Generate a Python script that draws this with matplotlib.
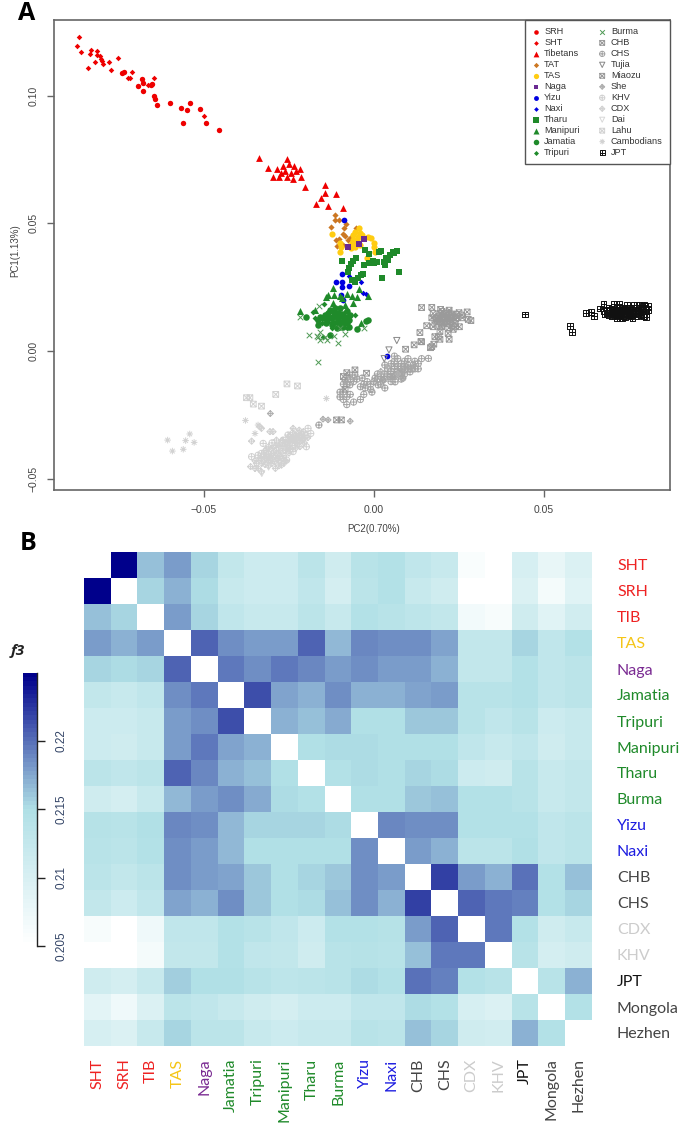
import numpy as np
import matplotlib
matplotlib.use("Agg")
import matplotlib.pyplot as plt
from matplotlib.colors import LinearSegmentedColormap
from matplotlib.path import Path
from matplotlib.markers import MarkerStyle
from matplotlib.cm import ScalarMappable
from matplotlib.colors import Normalize

W, H = 685, 1136

# ---------- PCA values (PC2, PC1) in thousandths ----------
SRH = [(-74.1,109),(-73.6,109.4),(-68.3,106.7),(-67.8,104.8),(-69.3,103.9),(-65.3,104.4),(-65.6,104.3),(-67.8,101.8),(-64.8,99.8),(-64.3,98.8),(-63.8,96.2),(-59.9,97.2),(-56.8,95),(-54.9,94.3),(-54.1,97.2),(-51.2,94.6),(-56.1,89.2),(-49.4,89.5),(-45.6,86.6)]
SHT = [(-86.9,123),(-87.3,119.3),(-86.3,117.2),(-83.1,117.8),(-83.6,116.3),(-81.5,117.6),(-81.5,115.9),(-80.7,115.6),(-80.2,114.3),(-82.2,113.1),(-80.1,113.4),(-79.8,112.6),(-84,110.9),(-78,113.3),(-77.4,110),(-75.2,114.6),(-71.2,109.1),(-72.5,107),(-71.8,107),(-64.7,107),(-66.5,104.1),(-50.1,91.9)]
Tibetans = [(-33.8,75.6),(-31.2,71.7),(-29.7,68.2),(-28.5,71.3),(-27.4,69.8),(-26.7,72.5),(-25.6,75.2),(-26.2,70.5),(-25,73.3),(-24.4,69.8),(-23.5,72.5),(-22.8,70.5),(-21.9,71.3),(-28,68.2),(-25.6,68.2),(-23.8,67.4),(-21.5,68.2),(-20.3,64.3),(-14.4,65),(-14.4,61.8),(-11.1,61.5),(-17,57.7),(-13.5,56.8),(-9,56),(-15.5,60)]
TAT = [(-11.5,53.3),(-11.6,51.3),(-10.3,51.3),(-8.2,49.6),(-12.6,48.5),(-8.9,48.1),(-9,45.7),(-8.5,45.1),(-7.1,44.2),(-5.3,48.3),(-11.2,43.5),(-10.4,43.8),(-10.8,41.2),(-9.2,41.5),(-7.6,43.5),(-6.6,43.8),(-3.1,44.2)]
TAS = [(-4.3,48.3),(-5.6,46.8),(-4.1,46.4),(-6.1,45.5),(-4.6,44.8),(-12.4,45.9),(-1.7,44.8),(-0.9,44.4),(-10,42.2),(-9.8,40.9),(-10,38.7),(-6.6,42.2),(-5.1,42.5),(-5.6,40.6),(-6.9,40.2),(-4.1,41.5),(-4.9,43.5),(0,42.2),(0,40.6),(0.3,38.9),(-2.2,36.3),(-6.1,43.5),(-3.6,45.5),(-7.3,41.2)]
Naga = [(-2.9,43.8),(-4.4,41.8),(-7.7,40.9)]
Yizu = [(-8.8,51.3),(-9.4,30.2),(-11.3,27.2),(-9.4,27.2),(-9.5,25.2),(-7.5,25.5),(-9.7,22),(-9,20),(3.7,-1.8)]
Naxi = [(-7.5,29.4),(-3.9,26.9),(-3.3,22.9),(-2.4,22.2)]
Tharu = [(-9.3,35.1),(-2.7,39.6),(-1.5,37.9),(2,39.2),(1.6,38.8),(5.5,38.9),(6.7,39.2),(5.9,38.3),(4.7,37.6),(3.5,36.3),(2.9,35),(4.2,35.7),(0.8,35),(-0.2,35.3),(-1.4,34.6),(-2.9,33.8),(-5.3,36.3),(-6.1,35.4),(-6.9,34.1),(-7.3,32.4),(-7.6,31.1),(-3.1,30.2),(-3.9,29.7),(-4.6,28.5),(-5.6,27.2),(-6.6,27.8),(7.4,31.1),(2.3,28.5),(3.2,33.7),(0.1,34.4)]
Manipuri = [(-21.8,15.7),(-12,24.8),(-13.4,21.9),(-14.1,21),(-11.8,21.9),(-10,21.6),(-7.8,22.4),(-6.4,21.6),(-5.1,21),(-4.4,24.2),(-1.7,21.6),(-6.3,18.7),(-9.5,20.7),(-12,18.7),(-8.5,18),(-3.9,11.1),(-17.4,16.1)]
Jamatia = [(-20,13.2),(-15.9,13.5),(-16.4,10.2),(-13.4,14.8),(-11.5,14.8),(-12.4,12.8),(-10.5,12.8),(-8,15.8),(-8,10.9),(-10,9.5),(-7.5,9.5),(-12.9,6.3),(-5.1,8.5),(-1.7,12.2),(-2.4,11.8),(-11.5,16.7),(-14.4,14.1),(-10,16.7),(-9,13.5),(-16.4,12.2),(-13.9,12.8),(-11,11.5),(-13,13),(-12,15.5),(-12,11),(-11,13.5),(-10.5,15),(-10,11.5),(-9.5,14.5),(-9,11),(-8.5,12.5),(-8,13.5),(-12.5,10),(-11,9),(-9,9.5),(-14,11),(-15,13),(-7.5,12),(-13,16),(-7,14)]
Tripuri = [(-17.8,15.4),(-14.6,18.4),(-15.4,10.9),(-12.9,16.1),(-10,14.8),(-5.6,14.1),(-14.9,5.6),(-12.5,8.9),(-8,8.9),(-11,10.9),(-17.4,12.8),(-8.5,15.4),(-12,14.1),(-13.4,11.5),(-9.5,11.5)]
Burma = [(-21.9,13.2),(-16.1,17.8),(-19,6.2),(-16.9,5.9),(-15.9,4.3),(-14.3,5.6),(-13.7,4.3),(-11.8,6),(-10.7,3),(-8.4,6.5),(-16.6,-4.3),(-2.8,8.9),(-15.9,7.6),(-10,8.9),(-16.4,5.6)]
CHB = [(14,17),(17,17.1),(19.6,16.3),(22.1,16),(27.4,15.3),(17.4,14.7),(19.4,14.7),(20.4,14.1),(21.3,14.7),(22.8,14.1),(24.3,14.3),(25.8,14.1),(18.4,12.8),(19.9,12.8),(21.8,13.2),(23.3,13.2),(17.9,12.1),(27.7,12.4),(28.5,11.9),(19.4,11.5),(21.8,10.8),(23.8,10.8),(25.1,9.5),(17.4,9.5),(15.5,9.9),(19.9,9.5),(23.3,8.5),(19.4,7.6),(21.8,6.9),(14,3.6),(17.9,5.6),(19.4,4.6),(22.1,4.6),(17.6,2.7),(16.6,1.3),(18.9,5.6),(13.5,7.2),(11.8,2.4),(13.8,3.7),(17,1.7),(9.3,0.7),(20.5,13.5),(21.5,12.5),(22.5,12.8),(20.8,12),(19,13.5),(24,12.5),(20,15.5),(22,15),(21,13),(23,14.5),(24.5,13),(25,15),(26,13),(19,13),(20.5,11),(22.5,11.5),(20,10.5),(18.5,10.5),(17,13),(23,10),(22,9),(24,9.5)]
CHS = [(-8.5,-11.4),(-7.1,-13.3),(-10,-16.1),(-5.6,-9.4),(-2.6,-14.5),(-0.6,-16.1),(1.2,-13.3),(2.6,-11.4),(4.7,-10.2),(6.2,-9.4),(7.6,-8.6),(9.1,-7.4),(10.6,-8.2),(11.5,-5.5),(10,-5.5),(8.5,-10.6),(6.2,-12.1),(3.2,-14.5),(0.3,-10.6),(-3.5,-10.6),(-7.1,-9.4),(3.2,-5.5),(5,-8),(6,-7),(7,-6),(8,-7),(9,-9),(4,-7),(5,-10),(6,-10),(8,-5),(9,-4),(10,-3),(7,-3),(6,-4),(12,-7),(13,-7),(3,-9),(1,-11),(0,-12),(-1,-13),(-2,-12),(-4,-14),(-6,-12),(-7,-11),(-9,-13),(-9,-16),(-10,-18),(-8,-21),(-6,-20),(-4,-19),(-3,-17),(16,-2.9),(-16.2,-29),(5,-5),(6,-6),(7,-8),(8,-9),(9,-6),(4,-9),(5,-12),(3,-11),(2,-10),(10,-7),(11,-7),(-5,-11),(-8,-13),(-7,-17),(-9,-19),(-8,-18),(-3,-13),(-1,-15),(1,-9),(2,-13),(12,-4),(13,-5),(8,-11),(6,-2),(14,-3)]
Tujia = [(6.7,4.1),(4.4,0.4),(3,-3)]
Miaozu = [(-8,-8.5),(-5.6,-7.4),(-2.2,-8.7),(-11,-27),(-9.6,-27),(-9,-10),(-8.5,-15)]
She = [(-7,-27.5),(-13.5,-27),(-15,-26.7),(-30.5,-24.5),(4,-6),(2,-8),(7,-9)]
KHV = [(-36,-41.4),(-33.1,-40.1),(-31.6,-38.8),(-28.7,-38.8),(-32.6,-36.2),(-30.6,-42.7),(-27.7,-41.4),(-25.7,-42.7),(-26.7,-34.9),(-25.3,-32.9),(-22.3,-32.3),(-19.4,-30.3),(-18.6,-32.3),(-19.9,-37.5),(-23.8,-39.4),(-25.7,-38.1),(-22.8,-34.9),(-21.3,-32.9),(-26.2,-37.5),(-33.1,-42.7),(-34.1,-40.8),(-30,-36),(-27,-36),(-24,-37),(-20,-33)]
CDX = [(-36.3,-45.3),(-33.1,-47.3),(-34.6,-44),(-30.2,-40.8),(-29.2,-43.4),(-27.2,-44.7),(-28.7,-34.9),(-23.8,-30.3),(-20.8,-31.6),(-21.8,-37.5),(-24.8,-35.5),(-20.8,-34.2),(-23.8,-33.6),(-27.7,-37.5),(-31.6,-41.4),(-29.7,-31.6),(-30.6,-31.6),(-36,-35.3),(-33.6,-29.7),(-33.1,-30.3),(-30,-38),(-31,-40),(-32,-42),(-29,-41),(-28,-40),(-27,-38),(-26,-36),(-25,-35),(-24,-35),(-23,-36),(-22,-35),(-21,-35),(-22,-33),(-23,-33),(-24,-32),(-25,-37),(-26,-39),(-28,-43),(-30,-44),(-31,-43),(-33,-44),(-32,-39),(-28,-37),(-31,-45),(-29,-46),(-27,-42),(-25,-40),(-23,-38),(-22,-31),(-35,-43),(-34,-46),(-32,-44.5),(-30.5,-41.5),(-29.5,-39.5),(-28.5,-42),(-27.5,-39),(-26.5,-41),(-26,-43),(-25.5,-36),(-24.5,-38.5),(-24,-34),(-23,-34.5),(-22.5,-36.5),(-21.5,-34),(-20.5,-36),(-19.5,-34),(-25,-33.5),(-27,-35),(-29,-37),(-31,-37.5),(-32.5,-40.5),(-33.5,-42),(-30,-42),(-28,-45),(-26.5,-44),(-35,-46)]
Dai = [(-33,-48),(-31,-45.5),(-27,-39)]
Lahu = [(-37.5,-18.3),(-36.5,-18.3),(-35.5,-20.8),(-33.1,-21.6),(-28.9,-17),(-25.6,-12.9),(-22.5,-13.7)]
Cambodians = [(-60.7,-34.9),(-59.3,-39.2),(-56.1,-38.5),(-55.4,-35.1),(-54.2,-32.5),(-52.9,-35.8),(-37.8,-27.2),(-35,-32.3),(-34.1,-29),(-14,-18.6)]
JPT = [(44.5,14.3),(57.7,9.9),(58.3,7.3),(62.4,15),(63.9,15.3),(64.7,13.7),(66.5,16.6),(67.5,15.7),(67.5,18.4),(68,14.5),(68.5,16),(69,17),(69.5,15),(70,13.5),(70,16.5),(70.5,14.5),(70.5,18.3),(71,15.5),(71.5,17),(71.5,12.7),(72,14),(72,18.5),(72.5,16),(72.5,15),(73,17),(73,12.7),(73.5,13.8),(74,15.5),(74,16.5),(74.5,14.5),(74.5,18),(75,15.5),(75,17),(75.5,13.5),(76,16),(76,13),(76.5,15),(76.5,18.2),(77,14.8),(77,17),(77.5,16),(77.5,13.5),(78,18.2),(78,15),(78.5,16.5),(78.5,14.2),(79,17.5),(79,15.5),(79.5,13.5),(80,16.5),(79.5,18.2),(80,14.5),(80.5,16),(80.5,17.5),(80,13.2),(69,14),(70.5,16),(71,14),(72,17),(73,15.5),(75,14),(74,13.2),(70,15),(71,16),(72,15.5),(73,14.5),(74,14.5),(75,15),(76,14.5),(72,14.8),(71,15),(73,16),(74,15),(75,16),(70,14.5),(69.5,16),(68.5,15),(76,15.5),(77,15.5),(78,15.8),(72.5,14),(73.5,16.5)]

# ---------- f3 matrix ----------
heat_labels = ["SHT","SRH","TIB","TAS","Naga","Jamatia","Tripuri","Manipuri","Tharu","Burma","Yizu","Naxi","CHB","CHS","CDX","KHV","JPT","Mongola","Hezhen"]
heat_colors = ["#ee2222","#ee2222","#ee2222","#f5c518","#7a2a92","#1f8a2a","#1f8a2a","#1f8a2a","#1f8a2a","#1f8a2a","#1c1ce0","#1c1ce0","#444444","#444444","#cccccc","#cccccc","#111111","#444444","#444444"]
n = np.nan
f3_rows = [
[n,225,216.3,218,215.5,212.5,211.5,211.5,213.5,211,214,214.5,213,212,205.8,205.2,210,208,209.5],
[225,n,215.5,217,215,212,211.5,211.5,213,210.5,213.5,214.5,212,211,205,205,209.5,206.5,209],
[216.3,215.5,n,218,215.5,213,212,212,213.5,212,214.5,214,213.2,212.5,206.8,206.2,211,209,210.8],
[218,217,218,n,220.5,218.5,218,218,220.5,216.8,219,218.7,218.7,217.5,212.5,212.5,215.5,213,214.5],
[215.5,215,215.5,220.5,n,219.5,218.5,219.5,219,218,218.5,218,218,217,212.5,212.5,214.5,213,213.5],
[212.5,212,213,218.5,219.5,n,221.3,217.5,217,218.5,217,217,217.8,218,214,214,214.5,213,213.5],
[211.5,211.5,212,218,218.5,221.3,n,217,216.3,217.3,214.8,214.8,216,216,214,213,214,211.5,212],
[211.5,211,212,218,219.5,217.5,217,n,214.7,215,215,214.8,214.8,214.8,213,212,213,211,212],
[213.5,213,213.5,220.5,219,217,216.3,214.7,n,214.5,215.3,214.8,215.5,215,211.5,211,214,212,212.5],
[211,210.5,212,216.8,218,218.5,217.3,215,214.5,n,214.7,214.7,216,216.5,214.5,214.5,214,212,212.5],
[214.3,213.8,214.7,219,218.5,216.7,215.5,215.5,215.5,215,n,219,218.5,218.7,214.5,214.5,214.5,213,213.5],
[213.8,213.5,214.5,218.5,218,216.7,214.8,214.8,214.8,214.8,218.5,n,218,217,213.5,213.5,214.7,213,213.5],
[213.5,212.5,213.5,218.5,218,217.5,216,214.8,215.5,216,218.5,218,n,222,218,217,219.8,214.5,216.5],
[212.5,211.5,213,217.5,217,218.5,216,214.8,215,216.5,218.7,217,222,n,220.5,219.5,219.3,214.5,215.5],
[206,205.3,207,213,213,214.5,214,213,211.5,214.5,214.5,214.3,218,220.5,n,219.5,214.5,211,212],
[205.3,205,206.5,212.5,212.5,214.5,213,212.5,211,214,214.3,214,216.5,219.5,219.5,n,214,210.5,211],
[211,210.5,212,215.7,214.8,214.7,214,213.3,213.7,214,215,214.5,219.8,219.3,214.5,214,n,214,217],
[208.5,207,209.5,213.5,213,212,211,210.5,211.5,211.5,213,213,215,214.5,210,209.5,214,n,214.5],
[210,209.5,212,215.5,213.5,213.5,212,211.5,212,212,214,213.5,216.5,215.5,211,210.8,217,214.5,n],
]
cbar_ticks = [0.205, 0.21, 0.215, 0.22]
pc_ticks_x = [-0.05, 0.0, 0.05]
pc_ticks_y = [-0.05, 0.0, 0.05, 0.10]

# ---------- marker shapes ----------
def compound(*paths):
    return MarkerStyle(Path.make_compound_path(*paths))
sq = Path([(-1,-1),(1,-1),(1,1),(-1,1),(-1,-1)])
circ = Path.unit_circle()
dia = Path([(0,-1.35),(1.35,0),(0,1.35),(-1.35,0),(0,-1.35)])
plus = Path([(-1,0),(1,0),(0,-1),(0,1)], [1,2,1,2])
plus2 = Path([(-1.35,0),(1.35,0),(0,-1.35),(0,1.35)], [1,2,1,2])
cross = Path([(-1,-1),(1,1),(-1,1),(1,-1)], [1,2,1,2])
star = Path([(-1,0),(1,0),(0,-1),(0,1),(-.7,-.7),(.7,.7),(-.7,.7),(.7,-.7)], [1,2,1,2,1,2,1,2])
m_sqx = compound(sq, cross)
m_cp = compound(circ, plus)
m_dp = compound(dia, plus2)
m_sqp = compound(sq, plus)

def mpos(l, t, r, b):
    return [l/W, 1-b/H, (r-l)/W, (b-t)/H]

fig = plt.figure(figsize=(W/100, H/100), dpi=100)
plt.rcParams['font.family'] = ['Liberation Sans', 'DejaVu Sans']

# ---------- panel A ----------
ax = fig.add_axes(mpos(54, 20, 670, 490))
series = [
 ("SRH", SRH, 'o', 15, '#ee0000', True), ("SHT", SHT, 'D', 8, '#ee0000', True),
 ("Tibetans", Tibetans, '^', 24, '#ee0000', True), ("TAT", TAT, 'D', 10, '#cc7722', True),
 ("TAS", TAS, 'o', 20, '#ffcc11', True), ("Naga", Naga, 's', 14, '#6a2a92', True),
 ("Yizu", Yizu, 'o', 17, '#0000e0', True), ("Naxi", Naxi, 'D', 8, '#0000e0', True),
 ("Tharu", Tharu, 's', 23, '#1f8a2a', True), ("Manipuri", Manipuri, '^', 26, '#1f8a2a', True),
 ("Jamatia", Jamatia, 'o', 22, '#1f8a2a', True), ("Tripuri", Tripuri, 'D', 9, '#1f8a2a', True),
 ("Burma", Burma, 'x', 16, '#4f9a55', False), ("CHB", CHB, m_sqx, 17, '#9a9a9a', False),
 ("CHS", CHS, m_cp, 20, '#a5a5a5', False), ("Tujia", Tujia, 'v', 20, '#888888', False),
 ("Miaozu", Miaozu, m_sqx, 17, '#9a9a9a', False), ("She", She, m_dp, 18, '#b0b0b0', False),
 ("KHV", KHV, m_cp, 20, '#d2d2d2', False), ("CDX", CDX, m_dp, 20, '#d2d2d2', False),
 ("Dai", Dai, 'v', 18, '#d8d8d8', False), ("Lahu", Lahu, m_sqx, 17, '#d2d2d2', False),
 ("Cambodians", Cambodians, star, 22, '#d2d2d2', False), ("JPT", JPT, m_sqp, 17, '#111111', False),
]
for name, pts, mk, size, col, solid in series:
    a = np.array(pts) / 1000
    if solid:
        ax.scatter(a[:,0], a[:,1], marker=mk, s=size, color=col, linewidths=0, label=name)
    elif isinstance(mk, str) and mk == 'x':
        ax.scatter(a[:,0], a[:,1], marker=mk, s=size, color=col, linewidths=.7, label=name)
    else:
        ax.scatter(a[:,0], a[:,1], marker=mk, s=size, facecolors='none', edgecolors=col, linewidths=.7, label=name)
ax.set_xlim((54-374)/3400, (670-374)/3400)
ax.set_ylim((351-490)/2553, (351-20)/2553)
ax.set_xticks(pc_ticks_x, ["\u22120.05", "0.00", "0.05"])
ax.set_yticks(pc_ticks_y, ["\u22120.05", "0.00", "0.05", "0.10"])
ax.tick_params(axis='both', labelsize=7.5, length=5, width=1, color='#666666', labelcolor='#444444')
ax.tick_params(axis='x', pad=6)
ax.tick_params(axis='y', pad=6)
for t in ax.get_yticklabels():
    t.set_rotation(90); t.set_va('center')
for s in ax.spines.values():
    s.set_color('#666666'); s.set_linewidth(1.2)
fig.text(374/W, 1-529/H, "PC2(0.70%)", fontsize=7, color='#444444', ha='center', va='center')
fig.text(15/W, 1-251/H, "PC1(1.13%)", fontsize=7, color='#444444', ha='center', va='center', rotation=90)
leg = ax.legend(ncol=2, loc='upper right', bbox_to_anchor=(1.0, 1.0), borderaxespad=0, fontsize=6.6,
                labelspacing=0.215, handletextpad=0.65, handlelength=0.6, columnspacing=2.15,
                borderpad=0.8, fancybox=False, framealpha=1, edgecolor='#555555', scatterpoints=1, labelcolor='#333333',
                markerscale=0.85)
leg.get_frame().set_linewidth(1)

# ---------- panel B ----------
cmap = LinearSegmentedColormap.from_list("f3", ["#ffffff", "#b0e0e6", "#00008b"], N=64)
cmap.set_bad("white")
norm = Normalize(0.205, 0.225)
hx = fig.add_axes(mpos(84, 552, 592, 1046))
M = np.array(f3_rows) / 1000
hx.imshow(M, cmap=cmap, norm=norm, aspect='auto', interpolation='nearest')
hx.set_xticks(range(19), heat_labels, rotation=90, fontsize=11.5, family=['Lato', 'DejaVu Sans'])
hx.set_yticks(range(19))
hx.yaxis.tick_right()
hx.set_yticklabels(heat_labels, fontsize=11.5, family=['Lato', 'DejaVu Sans'])
hx.tick_params(length=0)
hx.tick_params(axis='x', pad=9)
hx.tick_params(axis='y', pad=18)
for t, c in zip(hx.get_xticklabels(), heat_colors):
    t.set_color(c)
for t, c in zip(hx.get_yticklabels(), heat_colors):
    t.set_color(c)
for s in hx.spines.values():
    s.set_visible(False)

# ---------- colour bar ----------
cx = fig.add_axes(mpos(23, 672.7, 37, 946))
cb = fig.colorbar(ScalarMappable(norm=norm, cmap=cmap), cax=cx)
cb.set_ticks(cbar_ticks, labels=["0.205", "0.21", "0.215", "0.22"])
cb.outline.set_visible(False)
cx.spines['right'].set_visible(True)
cx.spines['right'].set_color('#222222')
cx.spines['right'].set_linewidth(1)
cx.tick_params(axis='y', length=6, width=1, color='#222222', labelsize=8.5, labelcolor='#334466', pad=7)
for t in cx.get_yticklabels():
    t.set_rotation(90); t.set_va('center')
fig.text(18/W, 1-651/H, "f3", fontsize=11, fontweight='bold', fontstyle='italic', color='#222222', ha='center', va='center', family=['Open Sans', 'DejaVu Sans'])

# ---------- panel letters ----------
fig.text(27/W, 1-14/H, "A", fontsize=18, fontweight='bold', color='black', ha='center', va='center', family=['Open Sans', 'DejaVu Sans'])
fig.text(28/W, 1-543/H, "B", fontsize=18, fontweight='bold', color='black', ha='center', va='center', family=['Open Sans', 'DejaVu Sans'])

fig.savefig("out.png", dpi=100)
